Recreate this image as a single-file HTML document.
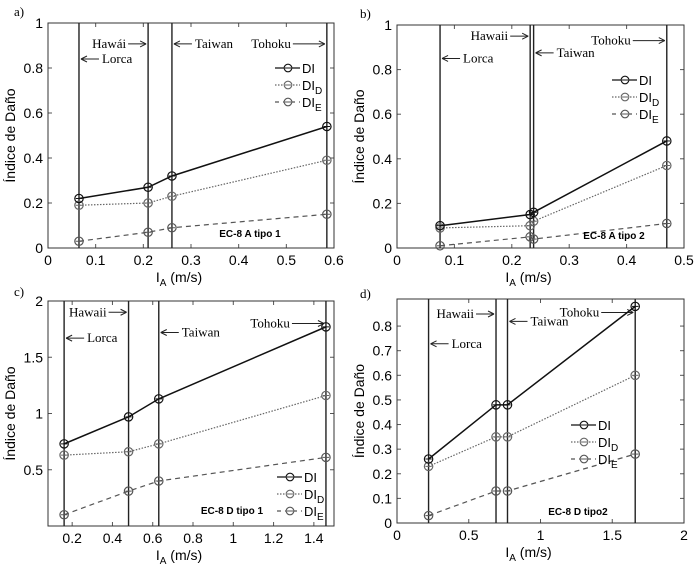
<!DOCTYPE html>
<html><head><meta charset="utf-8"><style>
body{margin:0;background:#fff}
svg text{font-family:"Liberation Sans",sans-serif}
.serif{font-family:"Liberation Serif",serif}
</style></head><body>
<svg id="fig" width="700" height="568" viewBox="0 0 700 568" xmlns="http://www.w3.org/2000/svg"></svg>
<script>
// Panel data
const events = ["Lorca","Hawaii","Taiwan","Tohoku"];
const xA = [0.065,0.21,0.26,0.585];
const diA = [0.22,0.27,0.32,0.54];
const didA = [0.19,0.20,0.23,0.39];
const dieA = [0.03,0.07,0.09,0.15];
const xB = [0.075,0.232,0.238,0.47];
const diB = [0.10,0.15,0.16,0.48];
const didB = [0.09,0.10,0.12,0.37];
const dieB = [0.01,0.05,0.04,0.11];
const xC = [0.16,0.48,0.63,1.46];
const diC = [0.73,0.97,1.13,1.77];
const didC = [0.63,0.66,0.73,1.16];
const dieC = [0.10,0.31,0.40,0.61];
const xD = [0.22,0.69,0.77,1.66];
const diD = [0.26,0.48,0.48,0.88];
const didD = [0.23,0.35,0.35,0.60];
const dieD = [0.03,0.13,0.13,0.28];
const xTicksA = [0,0.1,0.2,0.3,0.4,0.5,0.6];
const yTicksA = [0,0.2,0.4,0.6,0.8,1];
const xTicksB = [0,0.1,0.2,0.3,0.4,0.5];
const yTicksB = [0,0.2,0.4,0.6,0.8,1];
const xTicksC = [0.2,0.4,0.6,0.8,1,1.2,1.4];
const yTicksC = [0.5,1,1.5,2];
const xTicksD = [0,0.5,1,1.5,2];
const yTicksD = [0,0.1,0.2,0.3,0.4,0.5,0.6,0.7,0.8];

const NS="http://www.w3.org/2000/svg";
const svg=document.getElementById('fig');
function mk(tag,attrs,parent,text){const e=document.createElementNS(NS,tag);for(const k in attrs)e.setAttribute(k,attrs[k]);if(text!==undefined)e.textContent=text;(parent||svg).appendChild(e);return e;}

const panels=[
 {id:'a',L:48,R:334,T:23,B:248,xmin:0,xmax:0.6,ymin:0,ymax:1,xs:xA,di:diA,did:didA,die:dieA,xt:xTicksA,yt:yTicksA,
  letter:[14,16],ann:{Lorca:0.16,Hawaii:0.093,Taiwan:0.093,Tohoku:0.093},hawaiiName:'Hawái',
  leg:[275,68],tag:'EC-8 A tipo 1',tagPos:[250,237]},
 {id:'b',L:397,R:684,T:25,B:248,xmin:0,xmax:0.5,ymin:0,ymax:1,xs:xB,di:diB,did:didB,die:dieB,xt:xTicksB,yt:yTicksB,
  letter:[360,18],ann:{Lorca:0.15,Hawaii:0.05,Taiwan:0.125,Tohoku:0.07},hawaiiName:'Hawaii',
  leg:[612,80],tag:'EC-8 A tipo 2',tagPos:[614,239]},
 {id:'c',L:48,R:334,T:301,B:526,xmin:0.08,xmax:1.5,ymin:0,ymax:2,xs:xC,di:diC,did:didC,die:dieC,xt:xTicksC,yt:yTicksC,
  letter:[14,296],ann:{Lorca:0.165,Hawaii:0.05,Taiwan:0.14,Tohoku:0.1},hawaiiName:'Hawaii',
  leg:[277,477],tag:'EC-8 D tipo 1',tagPos:[232,514]},
 {id:'d',L:397,R:684,T:299,B:523,xmin:0,xmax:2,ymin:0,ymax:0.91,xs:xD,di:diD,did:didD,die:dieD,xt:xTicksD,yt:yTicksD,
  letter:[360,298],ann:{Lorca:0.2,Hawaii:0.067,Taiwan:0.1,Tohoku:0.06},hawaiiName:'Hawaii',
  leg:[571,425],tag:'EC-8 D tipo2',tagPos:[578,515]}
];

function marker(g,x,y,col){
  mk('circle',{cx:x,cy:y,r:4.2,fill:'none',stroke:col,'stroke-width':1.2},g);
  mk('line',{x1:x-3.2,y1:y,x2:x+3.2,y2:y,stroke:col,'stroke-width':1},g);
}

panels.forEach(p=>{
  const g=mk('g',{});
  
  
  const sx=v=>p.L+(v-p.xmin)/(p.xmax-p.xmin)*(p.R-p.L);
  const sy=v=>p.B-(v-p.ymin)/(p.ymax-p.ymin)*(p.B-p.T);
  const lt=mk('text',{x:p.letter[0],y:p.letter[1],'font-size':13,class:'serif'},g,p.id+')');
  
  
  p.xt.forEach(t=>{const x=sx(t);
    mk('line',{x1:x,y1:p.B,x2:x,y2:p.B-4,stroke:'#555'},g);
    mk('line',{x1:x,y1:p.T,x2:x,y2:p.T+4,stroke:'#555'},g);
    const tx=mk('text',{x:x,y:p.B+17,'font-size':14,'text-anchor':'middle'},g,String(t));
    
    
  });
  p.yt.forEach(t=>{const y=sy(t);
    mk('line',{x1:p.L,y1:y,x2:p.L+4,y2:y,stroke:'#555'},g);
    mk('line',{x1:p.R,y1:y,x2:p.R-4,y2:y,stroke:'#555'},g);
    const ty=mk('text',{x:p.L-5,y:y+5,'font-size':14,'text-anchor':'end'},g,String(t));
    
    
  });
  mk('rect',{x:p.L,y:p.T,width:p.R-p.L,height:p.B-p.T,fill:'none',stroke:'#333','stroke-width':1},g);
  const cx=(p.L+p.R)/2;
  const xtl=mk('text',{x:cx-12,y:p.B+34,'font-size':14,'text-anchor':'middle'},g);
  
  
  xtl.innerHTML='I<tspan font-size="10" dy="4">A</tspan><tspan dy="-4"> (m/s)</tspan>';
  const cy=(p.T+p.B)/2;
  const ytl=mk('text',{x:p.L-33,y:cy,'font-size':14,'text-anchor':'middle',transform:`rotate(-90 ${p.L-33} ${cy})`},g,'Índice de Daño');
  
  
  p.xs.forEach((v,i)=>{
    const vl=mk('line',{x1:sx(v),y1:p.T,x2:sx(v),y2:p.B,stroke:'#222','stroke-width':1.4},g);
    
    
  });
  events.forEach((ev,i)=>{
    const x=sx(p.xs[i]);const y=p.T+p.ann[ev]*(p.B-p.T);
    const name=ev==='Hawaii'?p.hawaiiName:ev;
    const pointLeft=(ev==='Lorca'||ev==='Taiwan');
    const ag=mk('g',{},g);
    
    
    const alen=ev==='Tohoku'?32:18;
    if(pointLeft){
      mk('line',{x1:x+2,y1:y,x2:x+2+alen,y2:y,stroke:'#222'},ag);
      mk('path',{d:`M${x+2} ${y} l6 -3 M${x+2} ${y} l6 3`,stroke:'#222',fill:'none'},ag);
      mk('text',{x:x+alen+5,y:y+4,'font-size':13,class:'serif'},ag,name);
    }else{
      mk('line',{x1:x-2,y1:y,x2:x-2-alen,y2:y,stroke:'#222'},ag);
      mk('path',{d:`M${x-2} ${y} l-6 -3 M${x-2} ${y} l-6 3`,stroke:'#222',fill:'none'},ag);
      mk('text',{x:x-alen-4,y:y+4,'font-size':13,class:'serif','text-anchor':'end'},ag,name);
    }
  });
  const series=[[p.die,'#555','5,4','die'],[p.did,'#666','1.5,1.5','did'],[p.di,'#111','','di']];
  series.forEach(s=>{
    const sg=mk('g',{},g);
    
    
    const pts=p.xs.map((v,i)=>sx(v)+','+sy(s[0][i])).join(' ');
    const pl=mk('polyline',{points:pts,fill:'none',stroke:s[1],'stroke-width':s[3]==='di'?1.5:1.2,'stroke-dasharray':s[2]},sg);
    
    
    p.xs.forEach((v,i)=>marker(sg,sx(v),sy(s[0][i]),s[1]));
  });
  const lg=mk('g',{},g);
  
  
  const legItems=[['DI','','#111',''],['DI','D','#666','1.5,1.5'],['DI','E','#555','4,4']];
  legItems.forEach((it,k)=>{
    const y=p.leg[1]+k*17;const x0=p.leg[0];
    const eg=mk('g',{},lg);
    
    
    mk('line',{x1:x0,y1:y,x2:x0+25,y2:y,stroke:it[2],'stroke-width':1.3,'stroke-dasharray':it[3]},eg);
    mk('circle',{cx:x0+13,cy:y,r:3.8,fill:'#fff',stroke:it[2],'stroke-width':1.1},eg);
    mk('line',{x1:x0+10,y1:y,x2:x0+16,y2:y,stroke:it[2]},eg);
    const t=mk('text',{x:x0+27,y:y+5,'font-size':13},eg);
    t.innerHTML=it[0]+(it[1]?`<tspan font-size="10" dy="4">${it[1]}</tspan>`:'');
  });
  const tg=mk('text',{x:p.tagPos[0],y:p.tagPos[1],'font-size':10,'font-weight':'bold','text-anchor':'middle'},g,p.tag);
  
  
});
</script>
</body></html>
